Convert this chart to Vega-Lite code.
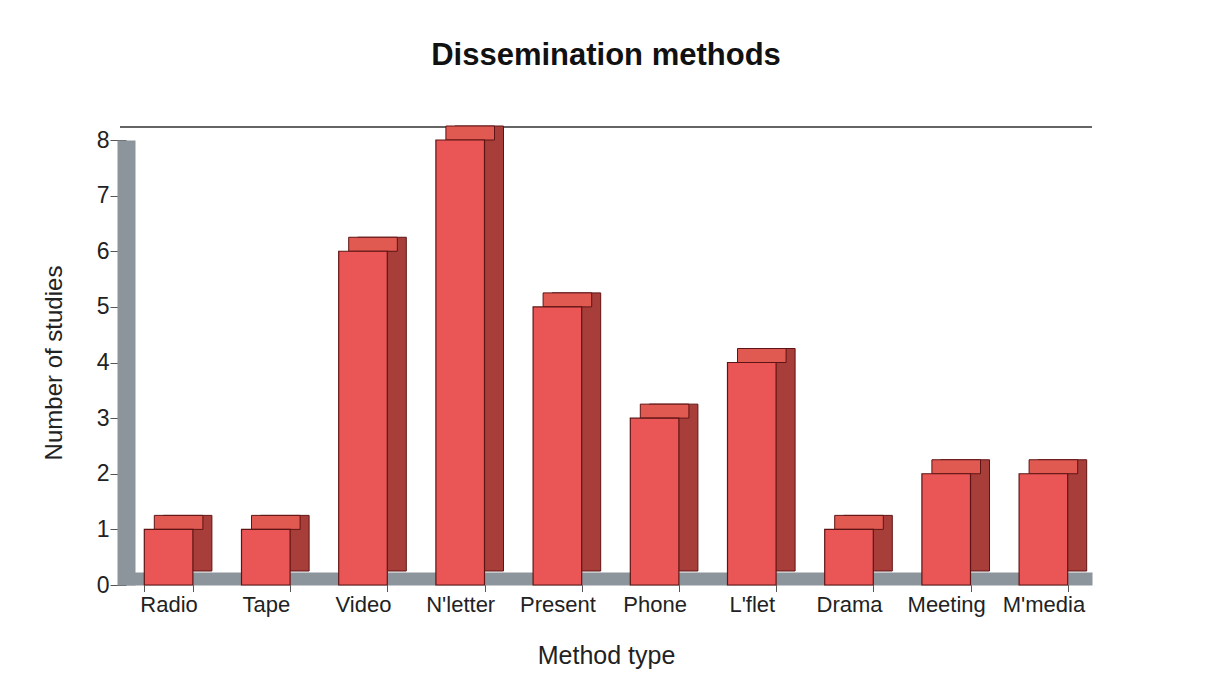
{
  "$schema": "https://vega.github.io/schema/vega-lite/v6.json",
  "width": 972,
  "height": 445,
  "autosize": {"type": "none"},
  "padding": {"left": 120, "top": 140, "right": 122, "bottom": 109},
  "background": "white",
  "title": {
    "text": "Dissemination  methods",
    "fontSize": 31,
    "font": "Liberation Sans",
    "fontWeight": "bold",
    "color": "#111",
    "offset": 54,
    "anchor": "middle"
  },
  "data": {
    "values": [
      {"method": "Radio", "studies": 1},
      {"method": "Tape", "studies": 1},
      {"method": "Video", "studies": 6},
      {"method": "N'letter", "studies": 8},
      {"method": "Present", "studies": 5},
      {"method": "Phone", "studies": 3},
      {"method": "L'flet", "studies": 4},
      {"method": "Drama", "studies": 1},
      {"method": "Meeting", "studies": 2},
      {"method": "M'media", "studies": 2}
    ]
  },
  "encoding": {
    "x": {
      "field": "method",
      "type": "nominal",
      "sort": null,
      "scale": {"paddingInner": 0.5, "paddingOuter": 0.25},
      "axis": {
        "title": "Method type",
        "titleFont": "Liberation Sans",
        "titleFontSize": 25,
        "titleFontWeight": "normal",
        "titleColor": "#222",
        "titlePadding": 28,
        "labelFont": "Liberation Sans",
        "labelFontSize": 22,
        "labelColor": "#222",
        "labelAngle": 0,
        "labelPadding": 3,
        "labelOverlap": false,
        "labelLimit": 200,
        "domainColor": "#8d959c",
        "domainWidth": 13,
        "offset": -6.5,
        "tickBand": "extent",
        "tickColor": "#555",
        "tickSize": 13,
        "grid": false
      }
    },
    "y": {
      "field": "studies",
      "type": "quantitative",
      "scale": {"domain": [0, 8], "nice": false},
      "axis": {
        "title": "Number of studies",
        "titleFont": "Liberation Sans",
        "titleFontSize": 24,
        "titleFontWeight": "normal",
        "titleColor": "#222",
        "titlePadding": 30,
        "labelFont": "Liberation Sans",
        "labelFontSize": 23,
        "labelColor": "#222",
        "labelPadding": 1,
        "values": [0, 1, 2, 3, 4, 5, 6, 7, 8],
        "domainColor": "#8d959c",
        "domainWidth": 18,
        "offset": -6,
        "tickColor": "#555",
        "tickSize": 16,
        "grid": false
      }
    }
  },
  "layer": [
    {
      "mark": {"type": "rule", "color": "#666", "strokeWidth": 1.5, "yOffset": -13},
      "encoding": {"x": null, "y": {"datum": 8}}
    },
    {
      "mark": {"type": "bar", "color": "#a83e3a", "stroke": "#5e1414", "strokeWidth": 1, "xOffset": 19, "yOffset": -14}
    },
    {
      "mark": {"type": "bar", "color": "#e05a52", "stroke": "#5e1414", "strokeWidth": 1, "xOffset": 10, "yOffset": -14, "y2Offset": 0},
      "encoding": {"y2": {"field": "studies"}}
    },
    {
      "mark": {"type": "bar", "color": "#ea5656", "stroke": "#5e1414", "strokeWidth": 1.2}
    }
  ],
  "config": {"view": {"stroke": null}}
}
